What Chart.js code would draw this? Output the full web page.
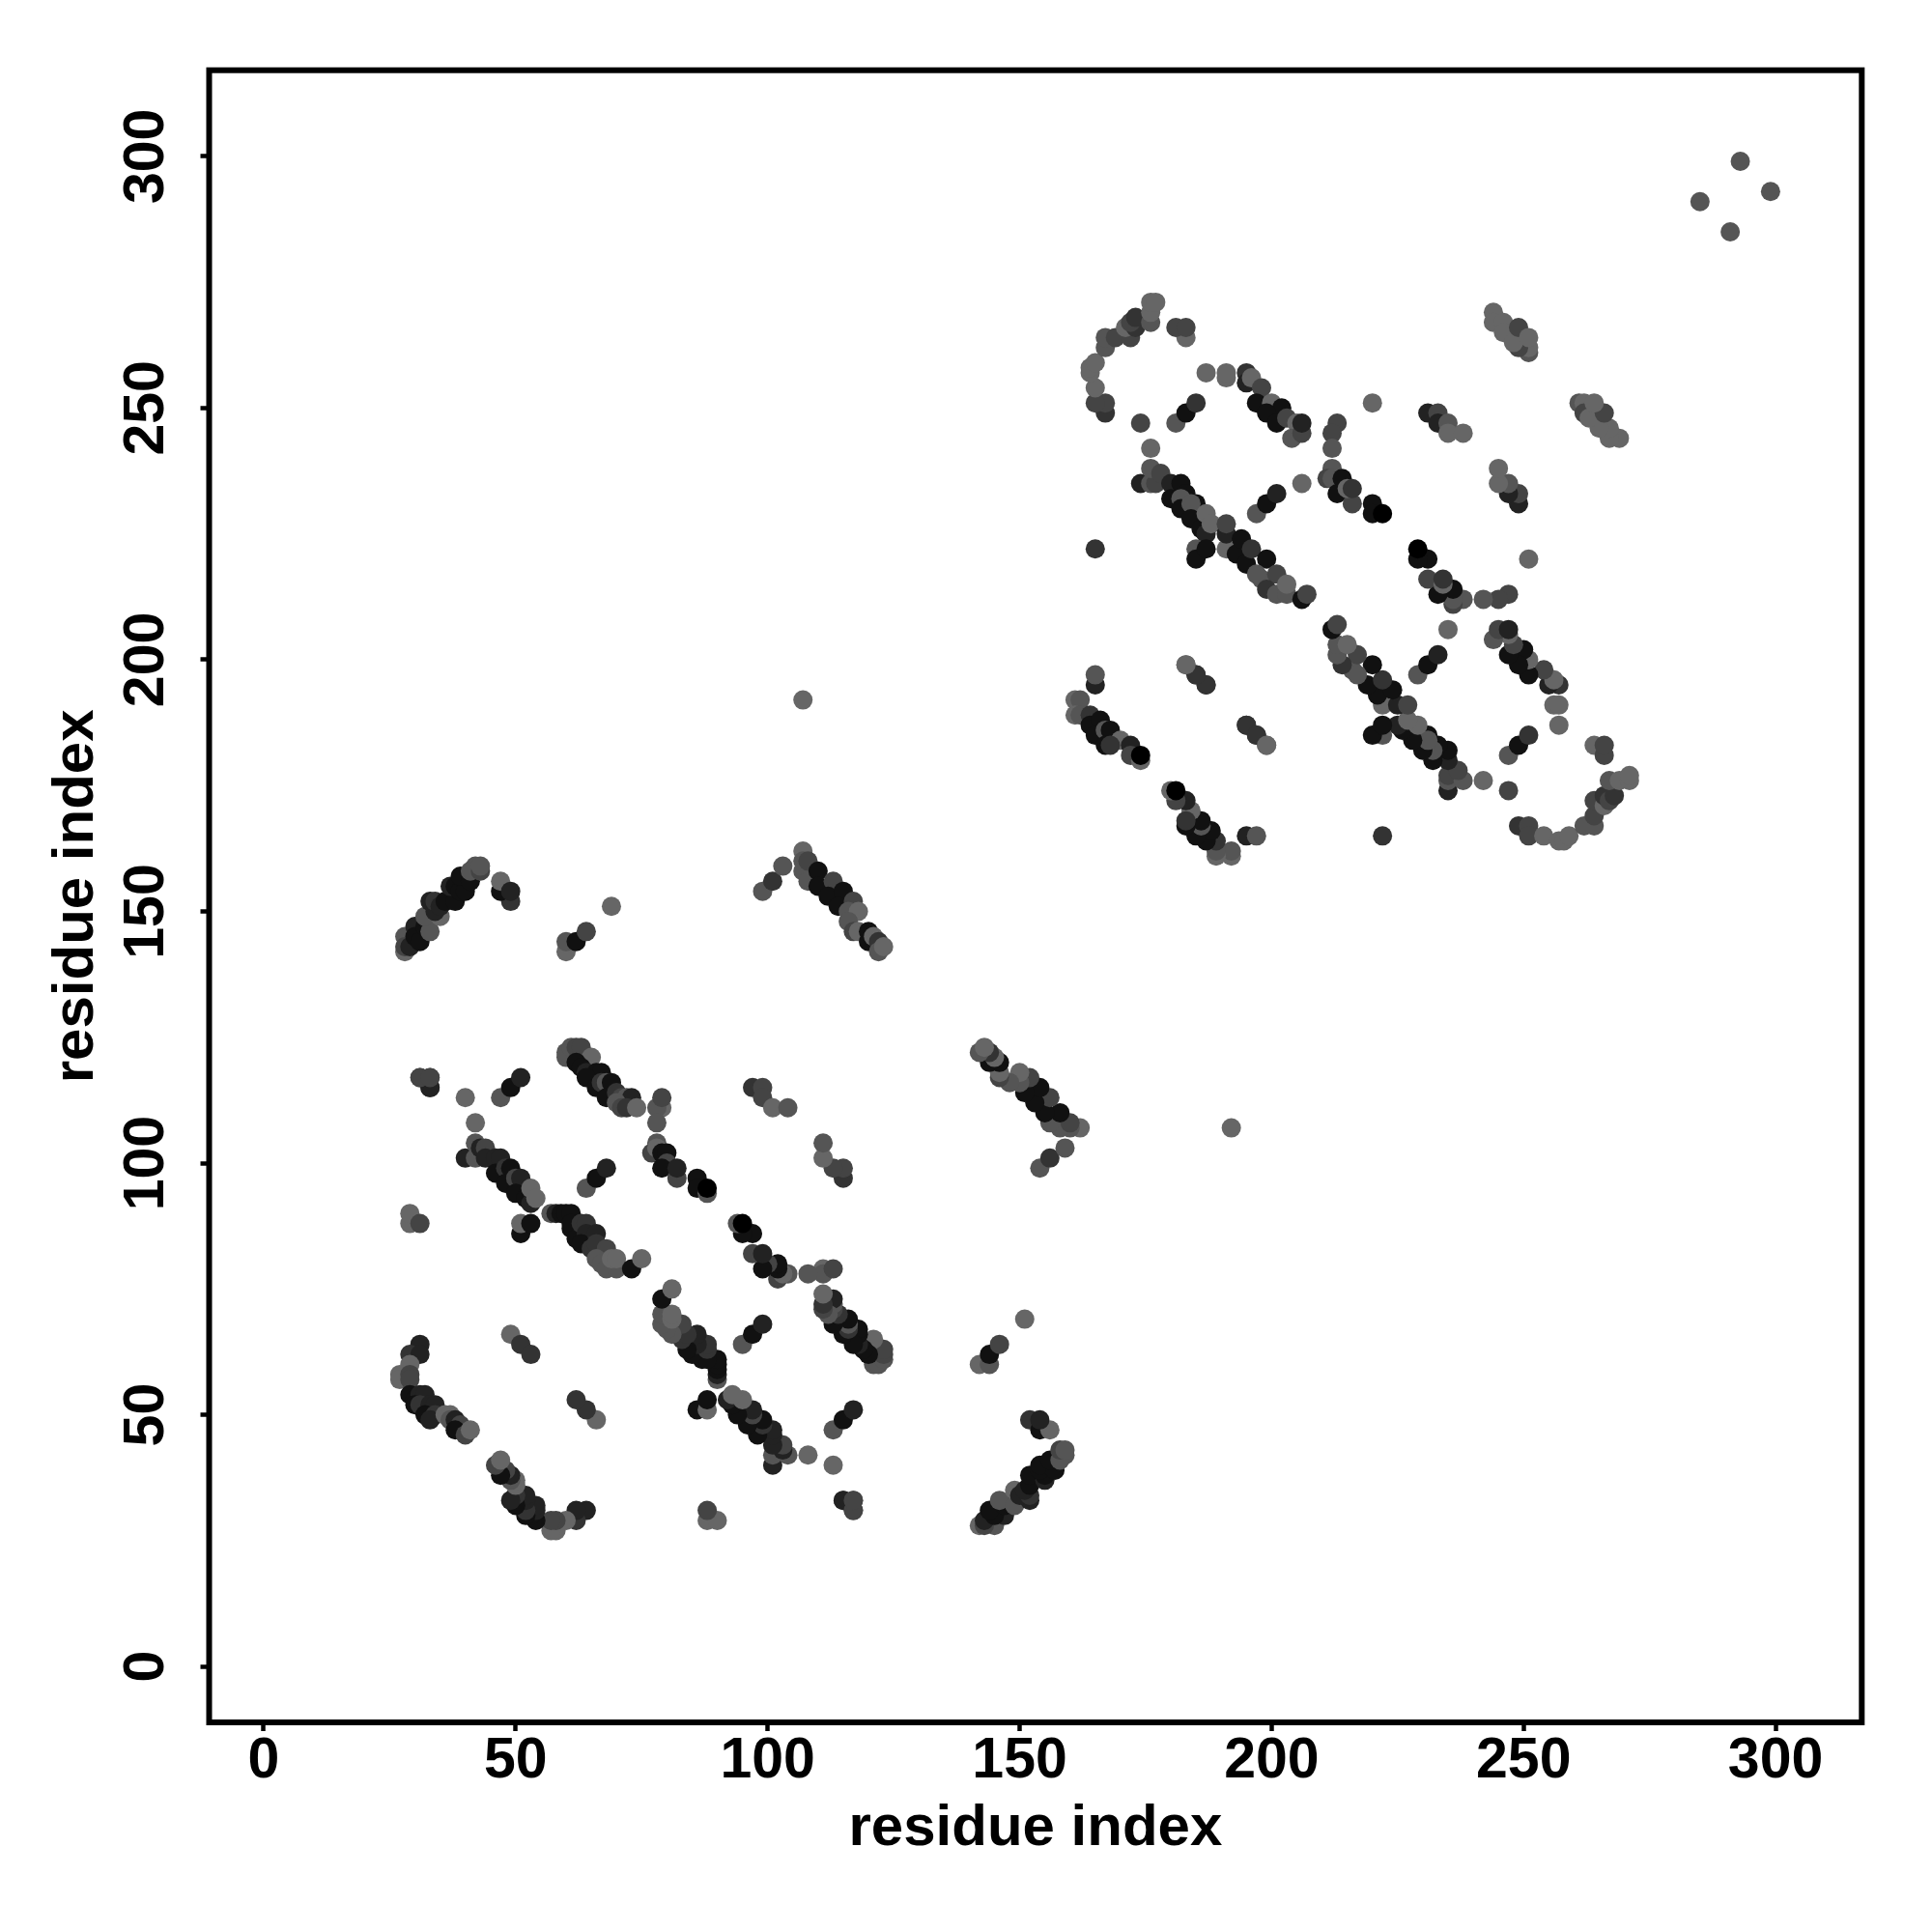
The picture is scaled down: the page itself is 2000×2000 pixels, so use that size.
<!DOCTYPE html>
<html lang="en">
<head>
    <meta charset="UTF-8">
    <title>Contact map</title>
    <script src="https://cdn.jsdelivr.net/npm/chart.js"></script>
    <style>
        body {
            margin: 0;
            background: #fff;
        }
        canvas {
            display: block;
        }
    </style>
</head>
<body>
    <canvas id="contactChart" width="2000" height="2000"></canvas>

    <script>
        const tickValues = [0, 50, 100, 150, 200, 250, 300];
        const axisTitle = 'residue index';

        // Contacts, one line per group of marks.
        // A contact map mirrors across its diagonal (checked on the reference),
        // so each pair i,j is listed once and drawn at both (i,j) and (j,i).
        const residueI = [
            31,29,31,29,27,27,29,29,29,30,31,32,30,31,33,34,32,34,33,36,37,37,38,39,38,40,41,
            49,51,53,51,51,53,33,31,33,29,29,31,
            57,58,59,60,61,61,61,62,63,64,64,63,65,66,66,68,66,67,68,70,69,70,73,75,
            33,31,33,40,47,49,51,42,
            40,42,42,43,44,44,46,47,46,48,49,48,50,51,50,52,53,53,54,
            64,66,68,
            60,60,61,62,63,65,62,63,64,66,67,64,66,67,68,69,68,70,71,72,73,70,71,72,74,
            79,78,79,78,78,77,78,79,80,80,79,82,82,86,86,88,88,
            97,99,99,101,104,
            28,28,28,29,30,30,31,32,33,32,33,35,34,34,35,36,38,37,38,39,40,39,41,42,41,43,43,
            49,47,47,49,60,60,62,64,69,99,101,103,
            107,107,107,108,108,110,110,113,112,115,114,117,116,118,116,117,118,120,120,121,122,122,123,
            107,
            167,167,165,165,164,164,165,167,167,169,172,171,173,172,173,176,176,176,177,
            183,181,183,187,191,191,174,181,183,185,176,
            174,176,177,176,178,180,182,180,183,182,182,185,184,184,186,187,187,188,
            197,199,201,206,165,185,185,187,
            191,191,191,193,194,195,196,199,198,197,201,199,201,203,203,206,207,
            195,195,196,198,197,200,202,199,201,203,205,204,206,206,
            213,212,212,220,
            212,211,212,214,213,216,215,216,220,220,222,
            231,233,233,235,235,238,
            244,244,246,246,251,251,249,248,249,251,
            161,162,161,162,164,164,166,165,167,168,167,170,168,172,172,174,174,
            165,165,183,185,187,195,197,199,
            285,293
        ];
        const residueJ = [
            64,62,62,60,58,57,58,57,54,53,54,54,52,52,52,52,50,50,49,50,50,49,49,48,47,46,47,
            66,64,62,86,88,88,115,117,117,88,90,88,
            90,90,90,90,90,87,88,85,88,88,86,84,83,86,84,83,81,80,79,79,81,81,79,81,
            115,117,117,113,113,115,117,108,
            101,104,101,103,103,101,101,101,98,99,99,96,97,97,94,93,92,95,93,
            95,97,99,
            121,122,123,123,123,121,120,119,118,118,118,117,115,116,116,116,113,114,113,113,113,112,111,111,111,
            111,111,113,108,104,102,103,102,102,100,99,97,99,97,95,94,95,
            115,115,113,111,111,
            142,145,143,143,147,145,144,147,146,149,152,149,150,152,151,152,152,155,155,154,154,157,156,159,158,158,159,
            152,154,156,154,142,144,144,146,151,154,156,159,
            162,160,158,160,156,158,155,156,153,154,151,152,150,150,148,146,146,146,144,145,144,142,143,
            192,
            249,251,251,254,257,258,259,262,264,264,264,266,266,267,268,267,269,271,271,
            264,266,266,257,256,257,247,247,249,251,242,
            235,235,235,238,237,235,235,232,233,232,230,231,231,228,226,225,229,227,
            229,231,233,235,222,222,220,222,
            222,225,227,221,224,219,222,220,216,217,217,214,213,213,215,212,213,
            257,255,256,254,251,251,250,249,247,248,247,244,245,247,
            247,245,242,251,
            238,236,236,236,233,231,234,234,231,229,229,
            249,249,247,247,245,245,
            269,267,267,265,261,262,262,263,266,264,
            192,192,189,189,189,187,188,185,186,186,183,184,183,183,181,180,181,
            195,197,199,197,195,187,185,183,
            291,299
        ];
        // Darkness of each mark, 0 (black) to 6 (mid grey)
        const shadeLevel = [
            2,3,2,6,6,6,4,4,1,1,2,2,1,3,2,2,1,3,2,6,6,5,2,4,1,4,6,
            6,3,3,1,6,1,2,4,4,6,6,4,
            5,2,1,1,1,1,1,1,3,3,2,1,3,2,3,4,5,5,5,5,6,6,1,6,
            2,4,4,6,5,1,2,6,
            2,5,5,2,4,2,2,2,1,3,1,1,4,2,1,1,2,6,6,
            5,1,2,
            5,5,5,4,4,6,1,1,2,1,1,1,1,3,5,1,1,3,4,5,2,5,4,3,6,
            6,5,4,5,5,4,6,1,1,4,1,4,2,1,1,5,0,
            3,4,4,6,5,
            6,5,4,2,2,1,1,1,5,5,2,6,2,3,2,1,1,2,1,1,1,1,1,5,5,4,5,
            3,1,6,2,6,5,1,4,6,5,3,5,
            6,5,5,4,5,1,1,4,1,1,1,4,5,6,5,4,6,1,1,6,3,5,6,
            6,
            3,4,4,6,6,6,6,5,5,4,4,6,3,4,3,5,6,6,6,
            6,4,4,6,6,6,4,5,1,3,6,
            2,5,4,5,4,2,1,1,1,5,1,1,5,1,1,2,6,6,
            5,1,2,6,3,5,1,1,
            6,2,4,1,1,1,3,1,5,5,4,3,5,5,6,1,4,
            3,2,6,4,1,6,1,1,1,4,6,5,4,2,
            4,4,5,6,
            5,4,5,1,1,4,6,3,1,1,0,
            2,4,2,5,6,6,
            6,6,6,6,5,6,4,6,4,6,
            6,5,6,5,3,1,1,1,5,1,1,6,3,2,4,6,0,
            2,5,6,3,3,3,3,6,
            5,5
        ];

        const contacts = residueI.flatMap((res, k) => [
            {x: res, y: residueJ[k], shade: shadeLevel[k]},
            {x: residueJ[k], y: res, shade: shadeLevel[k]}
        ]);

        const tickFont = {family: '"Liberation Sans", Arial, sans-serif', size: 59, weight: 'bold'};
        const titleFont = {family: '"Liberation Sans", Arial, sans-serif', size: 60, weight: 'bold'};

        // Frame round the plot, R style box()
        const boxPlugin = {
            id: 'box',
            afterDraw(chart) {
                const a = chart.chartArea;
                const ctx = chart.ctx;
                ctx.save();
                ctx.strokeStyle = '#000';
                ctx.lineWidth = 6;
                ctx.strokeRect(a.left, a.top, a.right - a.left, a.bottom - a.top);
                ctx.restore();
            }
        };

        const grid = {drawOnChartArea: false, tickLength: 9, tickWidth: 4.5, tickColor: '#000'};

        new Chart(document.getElementById('contactChart'), {
            type: 'scatter',
            data: {
                datasets: [{
                    data: contacts,
                    pointRadius: 10,
                    pointBorderWidth: 0,
                    pointBackgroundColor: contacts.map(c => {
                        const g = c.shade * 17;
                        return `rgb(${g},${g},${g})`;
                    })
                }]
            },
            options: {
                responsive: false,
                animation: false,
                devicePixelRatio: 1,
                layout: {padding: {top: 72.7, right: 72.7, left: 0, bottom: 0}},
                plugins: {legend: {display: false}, tooltip: {enabled: false}},
                scales: {
                    x: {
                        min: -10.83,
                        max: 317.1,
                        afterBuildTicks: s => { s.ticks = tickValues.map(v => ({value: v})); },
                        afterFit: s => { s.height = 217; },
                        border: {display: false},
                        grid: grid,
                        ticks: {color: '#000', font: tickFont, padding: -4, maxRotation: 0},
                        title: {display: true, text: axisTitle, color: '#000', font: titleFont, padding: {top: 0, bottom: 71}}
                    },
                    y: {
                        min: -11.1,
                        max: 317.1,
                        afterBuildTicks: s => { s.ticks = tickValues.map(v => ({value: v})); },
                        afterFit: s => { s.width = 216.5; },
                        border: {display: false},
                        grid: grid,
                        ticks: {color: '#000', font: tickFont, padding: 6, minRotation: 90, maxRotation: 90, crossAlign: 'center'},
                        title: {display: true, text: axisTitle, color: '#000', font: titleFont, padding: {top: 43, bottom: 0}}
                    }
                }
            },
            plugins: [boxPlugin]
        });
    </script>
</body>
</html>
